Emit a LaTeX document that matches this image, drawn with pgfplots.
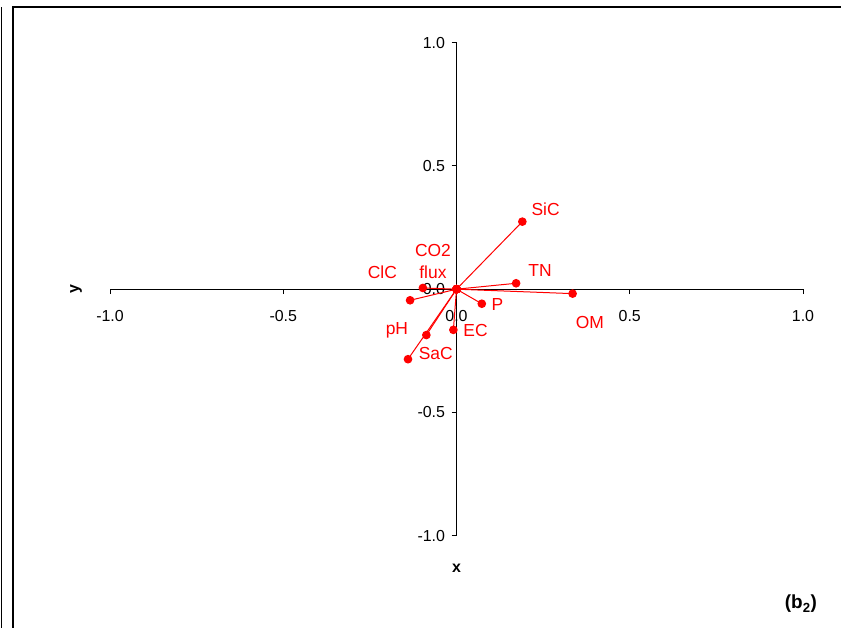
\documentclass[border=0pt]{standalone}
\usepackage{fontspec}
\setmainfont{Liberation Sans}
\usepackage{pgfplots}
\pgfplotsset{compat=1.18}
\definecolor{pred}{RGB}{255,0,0}
\begin{document}
\begin{tikzpicture}[x=1bp,y=1bp]
\useasboundingbox (0,0) rectangle (841,628);
\draw[line width=1.5bp] (1.5,0) -- (1.5,621);
\draw[line width=1.5bp] (13,0) -- (13,621) -- (841,621);
\begin{axis}[
  at={(110bp,92.3bp)}, anchor=south west,
  scale only axis, width=693bp, height=493bp,
  xmin=-1, xmax=1, ymin=-1, ymax=1,
  axis lines=middle,
  axis line style={-, line width=0.9bp, black},
  xtick={-1,-0.5,0,0.5,1}, ytick={-1,-0.5,0,0.5,1},
  hide obscured x ticks=false, hide obscured y ticks=false,
  tick align=outside, major tick length=5bp,
  tick style={black, line width=0.9bp},
  ticklabel style={font=\fontsize{16}{19}\selectfont, text=black},
  xticklabel style={anchor=north, yshift=-13bp},
  yticklabel style={anchor=east, xshift=-3bp},
  /pgf/number format/fixed, /pgf/number format/fixed zerofill,
  /pgf/number format/precision=1, /pgf/number format/assume math mode=true,
  clip=false,
  vec/.style={pred, solid, line width=1bp, mark=*, mark size=3.8bp, mark options={solid, fill=pred, draw=pred}},
]
% vectors from origin
\addplot[vec] coordinates {(0,0) (0.190,0.274)};   % SiC
\addplot[vec] coordinates {(0,0) (0.172,0.024)};   % TN
\addplot[vec] coordinates {(0,0) (0.335,-0.018)};  % OM
\addplot[vec] coordinates {(0,0) (0.073,-0.059)};  % P
\addplot[vec] coordinates {(0,0) (-0.009,-0.165)}; % EC
\addplot[vec] coordinates {(0,0) (-0.087,-0.186)}; % pH
\addplot[vec] coordinates {(0,0) (-0.140,-0.284)}; % SaC
\addplot[vec] coordinates {(0,0) (-0.134,-0.045)}; % ClC
\addplot[vec] coordinates {(0,0) (-0.097,0.005)};  % CO2 flux
% labels
\begin{scope}[every node/.style={text=pred, font=\fontsize{17.5}{21}\selectfont}]
\node at (axis cs:0.257,0.324) {SiC};
\node at (axis cs:0.241,0.077) {TN};
\node at (axis cs:0.385,-0.136) {OM};
\node at (axis cs:0.118,-0.064) {P};
\node at (axis cs:0.055,-0.169) {EC};
\node at (axis cs:-0.172,-0.166) {pH};
\node at (axis cs:-0.060,-0.260) {SaC};
\node at (axis cs:-0.214,0.067) {ClC};
\node[align=center, font=\fontsize{17.5}{22}\selectfont] at (axis cs:-0.068,0.111) {CO2\\flux};
\end{scope}
\node[font=\bfseries\fontsize{16}{18}\selectfont] at (axis cs:0,-1.131) {x};
\node[font=\bfseries\fontsize{16}{18}\selectfont, rotate=90] at (axis cs:-1.098,0) {y};
\node[font=\bfseries\fontsize{19}{22}\selectfont] at (axis cs:0.994,-1.277) {(b$_{\mathbf{2}}$)};
\end{axis}
\end{tikzpicture}
\end{document}
